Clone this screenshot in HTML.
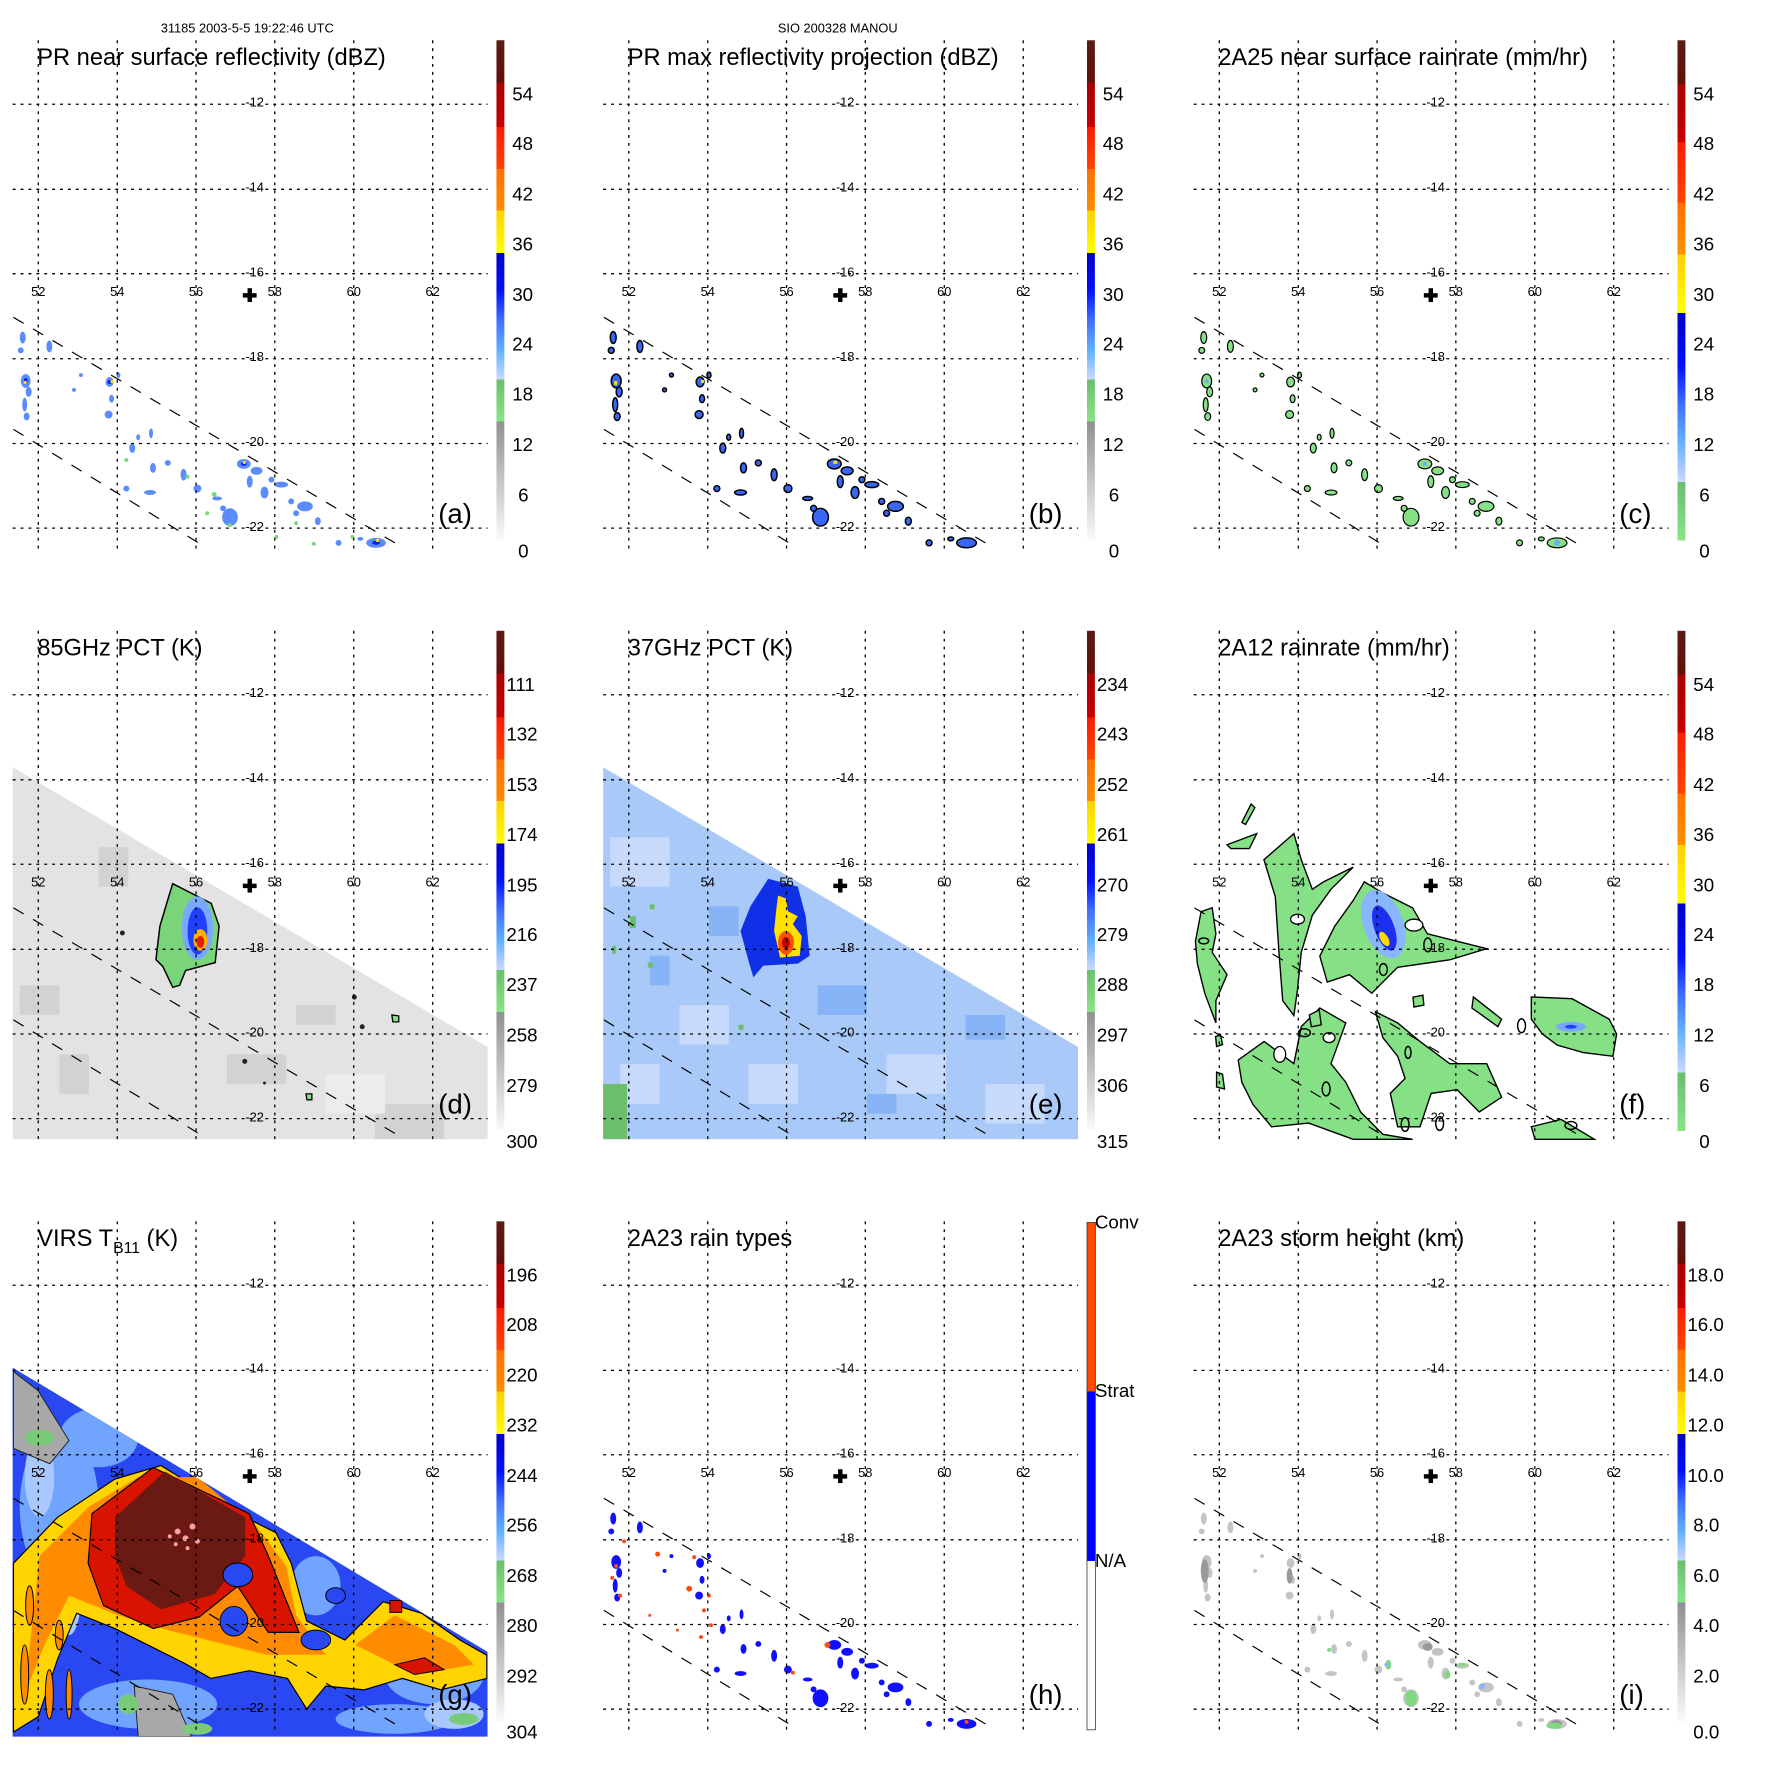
<!DOCTYPE html>
<html><head><meta charset="utf-8">
<style>
html,body{margin:0;padding:0;background:#fff;}
svg{display:block;font-family:"Liberation Sans",Arial,sans-serif;}
.tk{font-size:13px;text-anchor:middle;fill:#000;}
.tt{font-size:24px;fill:#000;}
.cb{font-size:19px;fill:#000;}
.pl{font-size:28px;fill:#000;}
.hd{font-size:13px;text-anchor:middle;fill:#000;}
</style></head><body>
<svg width="1771" height="1771" viewBox="0 0 1771 1771" xmlns="http://www.w3.org/2000/svg">
<defs>
<linearGradient id="palA" x1="0" y1="0" x2="0" y2="1">
<stop offset="0" stop-color="#5a1a16"/><stop offset="0.085" stop-color="#621008"/>
<stop offset="0.085" stop-color="#a80000"/><stop offset="0.173" stop-color="#c80000"/>
<stop offset="0.173" stop-color="#ff1a00"/><stop offset="0.257" stop-color="#ff4400"/>
<stop offset="0.257" stop-color="#ff7000"/><stop offset="0.34" stop-color="#ff8c00"/>
<stop offset="0.34" stop-color="#ffd000"/><stop offset="0.425" stop-color="#ffff00"/>
<stop offset="0.425" stop-color="#0000c8"/><stop offset="0.5" stop-color="#0010ff"/>
<stop offset="0.56" stop-color="#4070ff"/><stop offset="0.62" stop-color="#60b0ff"/><stop offset="0.678" stop-color="#ccd8ff"/>
<stop offset="0.678" stop-color="#6cbe6c"/><stop offset="0.762" stop-color="#88e488"/>
<stop offset="0.762" stop-color="#909090"/><stop offset="1" stop-color="#fafafa"/>
</linearGradient>
<linearGradient id="palC" x1="0" y1="0" x2="0" y2="1">
<stop offset="0" stop-color="#5a1a16"/><stop offset="0.087" stop-color="#621008"/>
<stop offset="0.087" stop-color="#a80000"/><stop offset="0.203" stop-color="#c80000"/>
<stop offset="0.203" stop-color="#ff1a00"/><stop offset="0.325" stop-color="#ff4400"/>
<stop offset="0.325" stop-color="#ff7000"/><stop offset="0.428" stop-color="#ff9000"/>
<stop offset="0.428" stop-color="#ffd000"/><stop offset="0.545" stop-color="#ffff00"/>
<stop offset="0.545" stop-color="#0000c8"/><stop offset="0.65" stop-color="#0010ff"/>
<stop offset="0.73" stop-color="#4070ff"/><stop offset="0.8" stop-color="#60b0ff"/><stop offset="0.883" stop-color="#ccd8ff"/>
<stop offset="0.883" stop-color="#6cbe6c"/><stop offset="1" stop-color="#88e488"/>
</linearGradient>
<g id="grid" stroke="#000" stroke-width="1.3" stroke-dasharray="3,5" fill="none">
<line x1="38.8" y1="40.8" x2="38.8" y2="556"/><line x1="118.8" y1="40.8" x2="118.8" y2="556"/>
<line x1="198.6" y1="40.8" x2="198.6" y2="556"/><line x1="278.4" y1="40.8" x2="278.4" y2="556"/>
<line x1="358.4" y1="40.8" x2="358.4" y2="556"/><line x1="438.4" y1="40.8" x2="438.4" y2="556"/>
<line x1="12.8" y1="105.6" x2="494" y2="105.6"/><line x1="12.8" y1="191.8" x2="494" y2="191.8"/>
<line x1="12.8" y1="277.3" x2="494" y2="277.3"/><line x1="12.8" y1="363.5" x2="494" y2="363.5"/>
<line x1="12.8" y1="449.3" x2="494" y2="449.3"/><line x1="12.8" y1="535.1" x2="494" y2="535.1"/>
</g>
<g id="swath" stroke="#000" stroke-width="1.2" stroke-dasharray="12,11" fill="none">
<line x1="13.6" y1="321.5" x2="408.5" y2="555"/><line x1="13.6" y1="435" x2="206" y2="553"/>
</g>
<g id="plus" fill="#000"><rect x="246" y="297" width="14" height="4.5"/><rect x="250.8" y="292" width="4.5" height="14"/></g>
<g id="blobs">
<ellipse cx="23" cy="342" rx="3" ry="6"/><ellipse cx="21" cy="355" rx="3" ry="3"/><ellipse cx="26" cy="386" rx="5" ry="7"/>
<ellipse cx="29" cy="397" rx="3" ry="5"/><ellipse cx="25" cy="410" rx="2.5" ry="7"/><ellipse cx="27" cy="422" rx="3" ry="4"/>
<ellipse cx="50" cy="351" rx="3" ry="6"/><ellipse cx="111" cy="387" rx="4" ry="5"/><ellipse cx="113" cy="404" rx="2.5" ry="4"/>
<ellipse cx="110" cy="420" rx="4" ry="4"/><ellipse cx="134" cy="454" rx="3" ry="5"/><ellipse cx="140" cy="443" rx="2" ry="3"/>
<ellipse cx="153" cy="439" rx="2" ry="5"/><ellipse cx="155" cy="474" rx="3" ry="5"/><ellipse cx="128" cy="495" rx="3" ry="3"/>
<ellipse cx="152" cy="499" rx="6" ry="2.5"/><ellipse cx="186" cy="481" rx="3" ry="6"/><ellipse cx="247" cy="470" rx="7" ry="5"/>
<ellipse cx="260" cy="477" rx="6" ry="4"/><ellipse cx="268" cy="499" rx="4" ry="6"/><ellipse cx="285" cy="491" rx="7" ry="3"/>
<ellipse cx="275" cy="486" rx="3" ry="3"/><ellipse cx="309" cy="513" rx="8" ry="5"/><ellipse cx="300" cy="520" rx="3" ry="3"/>
<ellipse cx="233" cy="524" rx="8" ry="9"/><ellipse cx="226" cy="515" rx="3" ry="3"/><ellipse cx="295" cy="508" rx="3" ry="3"/>
<ellipse cx="381" cy="550" rx="10" ry="5"/><ellipse cx="365" cy="546" rx="3" ry="2"/><ellipse cx="200" cy="495" rx="4" ry="4"/>
<ellipse cx="220" cy="505" rx="5" ry="2"/><ellipse cx="82" cy="380" rx="2" ry="2"/><ellipse cx="75" cy="395" rx="2" ry="2"/>
<ellipse cx="120" cy="380" rx="2" ry="3"/><ellipse cx="253" cy="488" rx="3" ry="6"/><ellipse cx="322" cy="528" rx="3" ry="4"/>
<ellipse cx="343" cy="550" rx="3" ry="3"/><ellipse cx="170" cy="469" rx="3" ry="3"/>
</g>
<clipPath id="swA"><polygon points="12.8,179 494,462.5 494,556 12.8,556"/></clipPath>
<clipPath id="swG"><polygon points="12.8,189 494,477 494,563 12.8,563"/></clipPath>
</defs>
<g transform="scale(0.987)">
<text class="hd" x="250.5" y="33">31185 2003-5-5 19:22:46 UTC</text>
<text class="hd" x="848.8" y="33">SIO 200328 MANOU</text>

<!-- ===== Panel a ===== -->
<g transform="translate(0,0)">
<use href="#blobs" fill="#5a8cff"/>
<g fill="#0a20ff"><ellipse cx="26" cy="386" rx="2" ry="3"/><ellipse cx="111" cy="387" rx="2" ry="2"/><ellipse cx="247" cy="470" rx="3" ry="2"/><ellipse cx="381" cy="550" rx="4" ry="2"/></g>
<g fill="#78d878"><circle cx="190" cy="483" r="2"/><circle cx="217" cy="501" r="2.5"/><circle cx="233" cy="532" r="2"/><circle cx="280" cy="544" r="2"/><circle cx="318" cy="551" r="2"/><circle cx="128" cy="466" r="2"/><circle cx="357" cy="544" r="2"/><circle cx="210" cy="520" r="2"/><circle cx="300" cy="530" r="2"/></g>
<g fill="#ffe000"><rect x="24" y="386" width="3" height="3"/><rect x="112" y="385" width="3" height="3"/><rect x="246" y="467" width="3" height="3"/><rect x="381" y="546" width="3" height="3"/></g>
<use href="#grid"/><use href="#swath"/><use href="#plus"/>
<g class="tk"><text x="38.8" y="300">52</text><text x="118.8" y="300">54</text><text x="198.6" y="300">56</text><text x="278.4" y="300">58</text><text x="358.4" y="300">60</text><text x="438.4" y="300">62</text>
<text x="258" y="108">-12</text><text x="258" y="194">-14</text><text x="258" y="280">-16</text><text x="258" y="366">-18</text><text x="258" y="452">-20</text><text x="258" y="538">-22</text></g>
<text class="tt" x="37.7" y="66">PR near surface reflectivity (dBZ)</text>
<text class="pl" x="444" y="530">(a)</text>
<rect x="503" y="40.8" width="8" height="506.8" fill="url(#palA)"/>
<g class="cb"><text x="519" y="102">54</text><text x="519" y="152">48</text><text x="519" y="203">42</text><text x="519" y="254">36</text><text x="519" y="305">30</text><text x="519" y="355">24</text><text x="519" y="406">18</text><text x="519" y="457">12</text><text x="525" y="508">6</text><text x="525" y="565">0</text></g>
</g>

<!-- ===== Panel b ===== -->
<g transform="translate(598.3,0)">
<use href="#blobs" fill="#3a66f4" stroke="#000" stroke-width="1.5"/>
<g fill="#ffe000"><rect x="24" y="386" width="3" height="4"/><rect x="112" y="385" width="3" height="3"/><rect x="246" y="467" width="4" height="3"/></g>
<use href="#grid"/><use href="#swath"/><use href="#plus"/>
<g class="tk"><text x="38.8" y="300">52</text><text x="118.8" y="300">54</text><text x="198.6" y="300">56</text><text x="278.4" y="300">58</text><text x="358.4" y="300">60</text><text x="438.4" y="300">62</text>
<text x="258" y="108">-12</text><text x="258" y="194">-14</text><text x="258" y="280">-16</text><text x="258" y="366">-18</text><text x="258" y="452">-20</text><text x="258" y="538">-22</text></g>
<text class="tt" x="37.7" y="66">PR max reflectivity projection (dBZ)</text>
<text class="pl" x="444" y="530">(b)</text>
<rect x="503" y="40.8" width="8" height="506.8" fill="url(#palA)"/>
<g class="cb"><text x="519" y="102">54</text><text x="519" y="152">48</text><text x="519" y="203">42</text><text x="519" y="254">36</text><text x="519" y="305">30</text><text x="519" y="355">24</text><text x="519" y="406">18</text><text x="519" y="457">12</text><text x="525" y="508">6</text><text x="525" y="565">0</text></g>
</g>

<!-- ===== Panel c ===== -->
<g transform="translate(1196.6,0)">
<use href="#blobs" fill="#86e086" stroke="#000" stroke-width="1.2"/>
<g fill="#70a8ff"><circle cx="26" cy="386" r="2"/><circle cx="247" cy="470" r="2"/><circle cx="381" cy="550" r="3"/></g>
<use href="#grid"/><use href="#swath"/><use href="#plus"/>
<g class="tk"><text x="38.8" y="300">52</text><text x="118.8" y="300">54</text><text x="198.6" y="300">56</text><text x="278.4" y="300">58</text><text x="358.4" y="300">60</text><text x="438.4" y="300">62</text>
<text x="258" y="108">-12</text><text x="258" y="194">-14</text><text x="258" y="280">-16</text><text x="258" y="366">-18</text><text x="258" y="452">-20</text><text x="258" y="538">-22</text></g>
<text class="tt" x="37.7" y="66">2A25 near surface rainrate (mm/hr)</text>
<text class="pl" x="444" y="530">(c)</text>
<rect x="503" y="40.8" width="8" height="506.8" fill="url(#palC)"/>
<g class="cb"><text x="519" y="102">54</text><text x="519" y="152">48</text><text x="519" y="203">42</text><text x="519" y="254">36</text><text x="519" y="305">30</text><text x="519" y="355">24</text><text x="519" y="406">18</text><text x="519" y="457">12</text><text x="525" y="508">6</text><text x="525" y="565">0</text></g>
</g>

<!-- ===== Panel d ===== -->
<g transform="translate(0,598.3)">
<polygon points="12.8,179 494,462.5 494,556 12.8,556" fill="#e3e3e3"/>
<g clip-path="url(#swA)" fill="#d2d2d2">
<rect x="100" y="260" width="30" height="40"/><rect x="20" y="400" width="40" height="30"/><rect x="230" y="470" width="60" height="30"/>
<rect x="380" y="520" width="70" height="36"/><rect x="60" y="470" width="30" height="40"/><rect x="300" y="420" width="40" height="20"/>
<rect x="170" y="200" width="30" height="40" fill="#ececec"/><rect x="330" y="490" width="60" height="40" fill="#ececec"/>
</g>
<g fill="#222"><circle cx="124" cy="347" r="2.5"/><circle cx="359" cy="412" r="2.5"/><circle cx="367" cy="442" r="2.5"/><circle cx="248" cy="477" r="2.5"/><circle cx="268" cy="499" r="1.5"/></g>
<g fill="#88e088" stroke="#000" stroke-width="1.3"><polygon points="397,430 404,431 404,437 398,437"/><polygon points="310,510 316,510 316,516 311,516"/></g>
<polygon points="175,297 214,317 222,340 218,377 188,385 182,400 175,402 165,381 158,374 162,340 171,310" fill="#7ad47a" stroke="#000" stroke-width="1.5"/>
<ellipse cx="200" cy="342" rx="16" ry="32" fill="#7aa8ff"/>
<ellipse cx="200" cy="345" rx="10" ry="24" fill="#2040ff"/>
<ellipse cx="203" cy="354" rx="7" ry="11" fill="#ffb000"/>
<ellipse cx="203" cy="356" rx="4" ry="6" fill="#e02000"/>
<use href="#grid"/><use href="#swath"/><use href="#plus"/>
<g class="tk"><text x="38.8" y="300">52</text><text x="118.8" y="300">54</text><text x="198.6" y="300">56</text><text x="278.4" y="300">58</text><text x="358.4" y="300">60</text><text x="438.4" y="300">62</text>
<text x="258" y="108">-12</text><text x="258" y="194">-14</text><text x="258" y="280">-16</text><text x="258" y="366">-18</text><text x="258" y="452">-20</text><text x="258" y="538">-22</text></g>
<text class="tt" x="37.7" y="66">85GHz PCT (K)</text>
<text class="pl" x="444" y="530">(d)</text>
<rect x="503" y="40.8" width="8" height="506.8" fill="url(#palA)"/>
<g class="cb"><text x="513" y="102">111</text><text x="513" y="152">132</text><text x="513" y="203">153</text><text x="513" y="254">174</text><text x="513" y="305">195</text><text x="513" y="355">216</text><text x="513" y="406">237</text><text x="513" y="457">258</text><text x="513" y="508">279</text><text x="513" y="565">300</text></g>
</g>

<!-- ===== Panel e ===== -->
<g transform="translate(598.3,598.3)">
<polygon points="12.8,179 494,462.5 494,556 12.8,556" fill="#a9c9f8"/>
<g clip-path="url(#swA)">
<g fill="#c8dafc"><rect x="20" y="250" width="60" height="50"/><rect x="90" y="420" width="50" height="40"/><rect x="300" y="470" width="60" height="40"/><rect x="400" y="500" width="60" height="40"/><rect x="30" y="480" width="40" height="40"/><rect x="160" y="480" width="50" height="40"/></g>
<g fill="#86b4f6"><rect x="120" y="320" width="30" height="30"/><rect x="230" y="400" width="50" height="30"/><rect x="380" y="430" width="40" height="25"/><rect x="280" y="510" width="30" height="20"/><rect x="60" y="370" width="20" height="30"/></g>
<g fill="#6cbe6c"><rect x="12" y="500" width="25" height="56"/><rect x="40" y="330" width="6" height="12"/><rect x="60" y="318" width="5" height="5"/><rect x="22" y="360" width="4" height="8"/><rect x="58" y="377" width="5" height="5"/><rect x="150" y="440" width="5" height="5"/></g>
</g>
<polygon points="180,292 210,300 218,330 222,370 210,378 175,380 165,392 160,375 152,345 162,320" fill="#1030e8"/>
<polygon points="190,309 198,312 200,325 210,330 205,338 214,350 212,370 192,372 186,345 188,325" fill="#ffe000"/>
<ellipse cx="198" cy="357" rx="8" ry="12" fill="#ff5000"/><ellipse cx="198" cy="357" rx="4" ry="6" fill="#c00000"/>
<use href="#grid"/><use href="#swath"/><use href="#plus"/>
<g class="tk"><text x="38.8" y="300">52</text><text x="118.8" y="300">54</text><text x="198.6" y="300">56</text><text x="278.4" y="300">58</text><text x="358.4" y="300">60</text><text x="438.4" y="300">62</text>
<text x="258" y="108">-12</text><text x="258" y="194">-14</text><text x="258" y="280">-16</text><text x="258" y="366">-18</text><text x="258" y="452">-20</text><text x="258" y="538">-22</text></g>
<text class="tt" x="37.7" y="66">37GHz PCT (K)</text>
<text class="pl" x="444" y="530">(e)</text>
<rect x="503" y="40.8" width="8" height="506.8" fill="url(#palA)"/>
<g class="cb"><text x="513" y="102">234</text><text x="513" y="152">243</text><text x="513" y="203">252</text><text x="513" y="254">261</text><text x="513" y="305">270</text><text x="513" y="355">279</text><text x="513" y="406">288</text><text x="513" y="457">297</text><text x="513" y="508">306</text><text x="513" y="565">315</text></g>
</g>

<!-- ===== Panel f ===== -->
<g transform="translate(1196.6,598.3)">
<g fill="#86e086" stroke="#000" stroke-width="1.4">
<polygon points="185.7,295.2 204.5,306.5 234.6,321.5 249.6,347.8 309.7,362.9 272.2,374.2 219.5,381.7 193.2,408 170.7,389.2 148.1,396.7 140.6,370.4 155.6,340.3 174.4,314"/>
<polygon points="84,272.7 114.3,246.3 121.8,272.7 133,302.7 144.3,295.2 174.4,280.2 151.9,302.7 133,329 121.8,366.6 118,404.2 114.3,430.6 103,415.5 99.2,366.6 95.5,310.3"/>
<polygon points="20.3,325.3 31.6,321.5 35.3,347.8 31.6,366.6 46.6,389.2 35.3,415.5 35.3,438.1 24,408 16.5,377.9 14.6,355.4"/>
<polygon points="57.9,475.7 84.2,456.9 114.3,479.4 121.8,441.8 140.6,423 166.9,438.1 151.9,479.4 166.9,498.2 181.9,528.3 204.5,551 234.6,556 174.4,556 129.3,539.6 91.7,543.3 72.9,520.8 61.6,498.2"/>
<polygon points="197,426.8 219.5,438.1 242.1,456.9 272.2,479.4 309.7,479.4 324.8,513.3 302.2,528.3 279.7,505.8 253.4,509.5 242.1,543.3 219.5,543.3 212,509.5 227,494.4 219.5,471.9 204.5,453.1"/>
<polygon points="354.9,411.8 396.2,413.6 433.8,434.3 441.3,449.3 437.6,471.9 407.5,468.1 381.2,460.6 366.1,449.3 354.9,434.3"/>
<polygon points="354.9,543.3 385,535.8 418.8,556 358.6,556"/>
<polygon points="296.2,411.8 324.8,434.3 321,441.8 294.7,423"/>
<polygon points="61.6,235 71,216.3 74.8,220 65.4,237"/>
<polygon points="46.6,257.6 76.7,246.3 69.2,261.4 50.4,261.4"/>
<polygon points="235,412 245,410 246,420 236,422"/><polygon points="130,430 140,425 142,440 132,442"/>
<polygon points="35,452 40,450 42,460 36,462"/><polygon points="36,488 42,490 44,505 36,503"/>
</g>
<g fill="#fff" stroke="#000" stroke-width="1.3"><ellipse cx="118" cy="333" rx="7" ry="5"/><ellipse cx="236" cy="339" rx="9" ry="6"/><ellipse cx="150" cy="453" rx="6" ry="5"/><ellipse cx="100" cy="470" rx="6" ry="8"/></g>
<g fill="none" stroke="#000" stroke-width="1.5"><ellipse cx="23" cy="355" rx="5" ry="3"/><ellipse cx="205" cy="384" rx="4" ry="6"/><ellipse cx="250" cy="359" rx="4" ry="7"/><ellipse cx="125" cy="448" rx="6" ry="4"/><ellipse cx="230" cy="468" rx="3" ry="6"/><ellipse cx="147" cy="505" rx="4" ry="7"/><ellipse cx="345" cy="441" rx="4" ry="7"/><ellipse cx="227" cy="541" rx="4" ry="7"/><ellipse cx="262" cy="540" rx="4" ry="7"/><ellipse cx="395" cy="542" rx="6" ry="4"/></g>
<ellipse cx="205" cy="338" rx="20" ry="36" fill="#8ab6ff" transform="rotate(-20 205 338)"/>
<ellipse cx="206" cy="342" rx="10" ry="24" fill="#1c30f0" transform="rotate(-20 206 342)"/>
<ellipse cx="206" cy="353" rx="4" ry="8" fill="#ffd800" transform="rotate(-30 206 353)"/>
<ellipse cx="395" cy="442" rx="15" ry="5" fill="#7aa8ff"/><ellipse cx="395" cy="442" rx="6" ry="2" fill="#2040ff"/>
<use href="#grid"/><use href="#swath"/><use href="#plus"/>
<g class="tk"><text x="38.8" y="300">52</text><text x="118.8" y="300">54</text><text x="198.6" y="300">56</text><text x="278.4" y="300">58</text><text x="358.4" y="300">60</text><text x="438.4" y="300">62</text>
<text x="258" y="108">-12</text><text x="258" y="194">-14</text><text x="258" y="280">-16</text><text x="258" y="366">-18</text><text x="258" y="452">-20</text><text x="258" y="538">-22</text></g>
<text class="tt" x="37.7" y="66">2A12 rainrate (mm/hr)</text>
<text class="pl" x="444" y="530">(f)</text>
<rect x="503" y="40.8" width="8" height="506.8" fill="url(#palC)"/>
<g class="cb"><text x="519" y="102">54</text><text x="519" y="152">48</text><text x="519" y="203">42</text><text x="519" y="254">36</text><text x="519" y="305">30</text><text x="519" y="355">24</text><text x="519" y="406">18</text><text x="519" y="457">12</text><text x="525" y="508">6</text><text x="525" y="565">0</text></g>
</g>

<!-- ===== Panel g ===== -->
<g transform="translate(0,1196.6)">
<g clip-path="url(#swG)">
<rect x="12" y="189" width="483" height="375" fill="#2a48f2"/>
<g fill="#70a4ff"><ellipse cx="60" cy="330" rx="40" ry="80"/><ellipse cx="150" cy="530" rx="70" ry="25"/><ellipse cx="440" cy="500" rx="50" ry="30"/><ellipse cx="320" cy="410" rx="25" ry="30"/><ellipse cx="100" cy="260" rx="40" ry="30"/><ellipse cx="400" cy="545" rx="60" ry="15"/></g>
<g fill="#a8c8ff"><ellipse cx="40" cy="300" rx="15" ry="40"/><ellipse cx="460" cy="540" rx="30" ry="15"/><ellipse cx="70" cy="420" rx="12" ry="40"/></g>
<polygon points="13.6,193 38.8,212.6 69.9,263 50.5,286.4 13.6,270.8" fill="#a8a8a8" stroke="#222" stroke-width="1"/>
<polygon points="136,511.6 175,520 194,563 140,563" fill="#a8a8a8" stroke="#222" stroke-width="1"/>
<g fill="#78cc78"><ellipse cx="40" cy="260" rx="15" ry="8"/><ellipse cx="130" cy="530" rx="10" ry="10"/><ellipse cx="200" cy="555" rx="15" ry="6"/><ellipse cx="470" cy="545" rx="15" ry="6"/></g>
<polygon points="13.6,387.3 58.3,340.7 116.5,301.9 163.1,288.3 248.5,340.7 279.6,356.3 295.1,387.3 310.7,445.7 349.5,465 388.3,426.2 427.2,437.9 466,465 493.2,480.5 493.2,503.9 446.6,515.5 407.8,503.9 368.9,515.5 330.1,511.6 310.7,534.9 291.3,503.9 252.4,496.1 213.6,503.9 186.4,488.3 155.3,472.8 116.5,453.4 77.7,437.9 58.3,484.4 38.8,542.7 13.6,558.2" fill="#ffd400" stroke="#000" stroke-width="1.2"/>
<polygon points="40,380 90,330 140,300 200,300 260,350 290,390 300,440 330,480 270,480 230,470 170,455 120,440 70,420 45,470 25,520" fill="#ff8c00"/>
<polygon points="360,470 400,440 460,470 480,490 420,500" fill="#ff8c00"/>
<g fill="#ff8c00" stroke="#000" stroke-width="1"><ellipse cx="25" cy="500" rx="4" ry="30"/><ellipse cx="50" cy="520" rx="4" ry="25"/><ellipse cx="70" cy="520" rx="3" ry="25"/><ellipse cx="30" cy="430" rx="4" ry="20"/><ellipse cx="60" cy="460" rx="4" ry="15"/></g>
<polygon points="93.2,336.9 155.3,290.3 252.4,336.9 271.8,379.6 302.9,457.3 271.8,457.3 240.8,410.6 201.9,441.7 155.3,453.4 104.9,430.1 89.3,387.3" fill="#d81400" stroke="#000" stroke-width="1.2"/>
<polygon points="116.5,340.7 167,294.1 248.5,340.7 248.5,379.6 217.5,418.4 163.1,434 128.2,410.6 116.5,379.6" fill="#6a1a12"/>
<polygon points="400,490 430,483 450,495 420,500" fill="#d81400" stroke="#000" stroke-width="1"/>
<rect x="395" y="425" width="12" height="12" fill="#d81400" stroke="#000" stroke-width="1"/>
<g fill="#ffa0a8"><circle cx="180" cy="355" r="3"/><circle cx="188" cy="362" r="3"/><circle cx="195" cy="350" r="3"/><circle cx="178" cy="368" r="2"/><circle cx="200" cy="365" r="2.5"/><circle cx="172" cy="360" r="2"/><circle cx="190" cy="372" r="2"/></g>
<g fill="#2a48f2" stroke="#000" stroke-width="1"><ellipse cx="241" cy="399" rx="15" ry="12"/><ellipse cx="237" cy="446" rx="14" ry="15"/><ellipse cx="320" cy="465" rx="15" ry="10"/><ellipse cx="340" cy="420" rx="10" ry="8"/></g>
</g>
<use href="#grid"/><use href="#swath"/><use href="#plus"/>
<g class="tk"><text x="38.8" y="300">52</text><text x="118.8" y="300">54</text><text x="198.6" y="300">56</text><text x="278.4" y="300">58</text><text x="358.4" y="300">60</text><text x="438.4" y="300">62</text>
<text x="258" y="108">-12</text><text x="258" y="194">-14</text><text x="258" y="280">-16</text><text x="258" y="366">-18</text><text x="258" y="452">-20</text><text x="258" y="538">-22</text></g>
<text class="tt" x="37.7" y="66">VIRS T<tspan font-size="16" dy="7">B11</tspan><tspan dy="-7"> (K)</tspan></text>
<text class="pl" x="444" y="530">(g)</text>
<rect x="503" y="40.8" width="8" height="506.8" fill="url(#palA)"/>
<g class="cb"><text x="513" y="102">196</text><text x="513" y="152">208</text><text x="513" y="203">220</text><text x="513" y="254">232</text><text x="513" y="305">244</text><text x="513" y="355">256</text><text x="513" y="406">268</text><text x="513" y="457">280</text><text x="513" y="508">292</text><text x="513" y="565">304</text></g>
</g>

<!-- ===== Panel h ===== -->
<g transform="translate(598.3,1196.6)">
<use href="#blobs" fill="#1010ff"/>
<g fill="#ff4a10"><circle cx="26" cy="390" r="2"/><circle cx="22" cy="402" r="2"/><circle cx="34" cy="365" r="2"/><circle cx="68" cy="378" r="2.5"/><circle cx="105" cy="381" r="2"/><circle cx="100" cy="413" r="3"/><circle cx="120" cy="420" r="2"/><circle cx="115" cy="435" r="2"/><circle cx="122" cy="450" r="2"/><circle cx="112" cy="462" r="2"/><circle cx="30" cy="420" r="2"/><circle cx="240" cy="470" r="3"/><circle cx="381" cy="548" r="2"/><circle cx="205" cy="498" r="2"/><circle cx="60" cy="440" r="1.5"/><circle cx="88" cy="455" r="1.5"/></g>
<use href="#grid"/><use href="#swath"/><use href="#plus"/>
<g class="tk"><text x="38.8" y="300">52</text><text x="118.8" y="300">54</text><text x="198.6" y="300">56</text><text x="278.4" y="300">58</text><text x="358.4" y="300">60</text><text x="438.4" y="300">62</text>
<text x="258" y="108">-12</text><text x="258" y="194">-14</text><text x="258" y="280">-16</text><text x="258" y="366">-18</text><text x="258" y="452">-20</text><text x="258" y="538">-22</text></g>
<text class="tt" x="37.7" y="66">2A23 rain types</text>
<text class="pl" x="444" y="530">(h)</text>
<rect x="503" y="42" width="8.5" height="171" fill="#ff4a00"/>
<rect x="503" y="213" width="8.5" height="172" fill="#0000ff"/>
<rect x="503" y="385" width="8.5" height="171" fill="#fff"/>
<rect x="503" y="42" width="8.5" height="514" fill="none" stroke="#333" stroke-width="0.8"/>
<g class="cb"><text x="511" y="48">Conv</text><text x="511" y="219">Strat</text><text x="511" y="391">N/A</text></g>
</g>

<!-- ===== Panel i ===== -->
<g transform="translate(1196.6,1196.6)">
<use href="#blobs" fill="#c4c4c4"/>
<g fill="#9a9a9a"><ellipse cx="24" cy="395" rx="4" ry="12"/><ellipse cx="110" cy="400" rx="3" ry="8"/><ellipse cx="250" cy="472" rx="5" ry="4"/><ellipse cx="380" cy="550" rx="6" ry="4"/></g>
<g fill="#80d880"><ellipse cx="233" cy="524" rx="6" ry="8"/><ellipse cx="210" cy="490" rx="3" ry="5"/><ellipse cx="270" cy="500" rx="3" ry="4"/><ellipse cx="285" cy="490" rx="4" ry="2"/><ellipse cx="378" cy="552" rx="8" ry="3"/><ellipse cx="150" cy="475" rx="2" ry="2"/></g>
<g fill="#8ab6ff"><circle cx="305" cy="512" r="3"/><circle cx="208" cy="490" r="2"/></g>
<use href="#grid"/><use href="#swath"/><use href="#plus"/>
<g class="tk"><text x="38.8" y="300">52</text><text x="118.8" y="300">54</text><text x="198.6" y="300">56</text><text x="278.4" y="300">58</text><text x="358.4" y="300">60</text><text x="438.4" y="300">62</text>
<text x="258" y="108">-12</text><text x="258" y="194">-14</text><text x="258" y="280">-16</text><text x="258" y="366">-18</text><text x="258" y="452">-20</text><text x="258" y="538">-22</text></g>
<text class="tt" x="37.7" y="66">2A23 storm height (km)</text>
<text class="pl" x="444" y="530">(i)</text>
<rect x="503" y="40.8" width="8" height="506.8" fill="url(#palA)"/>
<g class="cb"><text x="513" y="102">18.0</text><text x="513" y="152">16.0</text><text x="513" y="203">14.0</text><text x="513" y="254">12.0</text><text x="513" y="305">10.0</text><text x="519" y="355">8.0</text><text x="519" y="406">6.0</text><text x="519" y="457">4.0</text><text x="519" y="508">2.0</text><text x="519" y="565">0.0</text></g>
</g>
</g>
</svg>
</body></html>
